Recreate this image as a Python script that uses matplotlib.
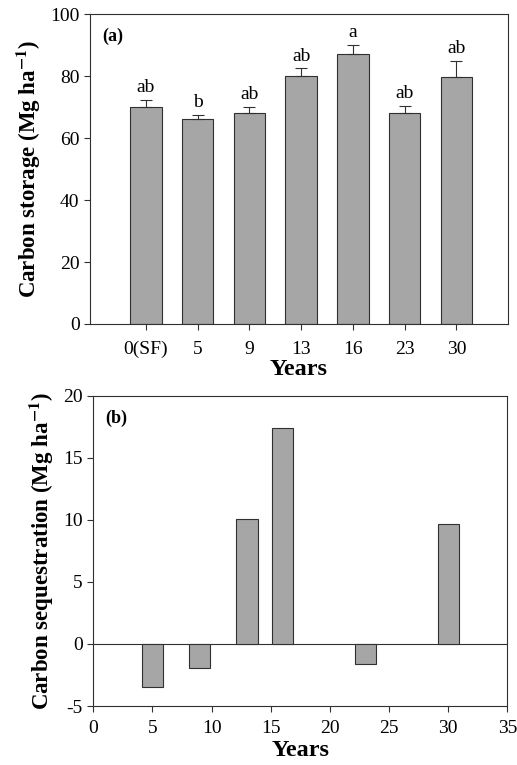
import numpy as np
import matplotlib.pyplot as plt

plt.rcParams['font.family'] = ['Liberation Serif', 'DejaVu Serif']
plt.rcParams['mathtext.fontset'] = 'stix'
plt.rcParams['axes.unicode_minus'] = False

# ----------------------
# Data
# ----------------------
years_labels = ["0(SF)", "5", "9", "13", "16", "23", "30"]
storage = [70.0, 66.3, 68.0, 80.0, 87.3, 68.2, 79.6]
storage_err = [2.3, 1.3, 2.0, 2.5, 2.8, 2.1, 5.4]
letters = ["ab", "b", "ab", "ab", "a", "ab", "ab"]

seq_years = [5, 9, 13, 16, 23, 30]
sequestration = [-3.5, -1.9, 10.1, 17.4, -1.6, 9.7]

bar_color = "#a6a6a6"
edge = "#303030"

fig = plt.figure(figsize=(5.17, 7.65), dpi=100)

# ----------------------
# (a) Carbon storage
# ----------------------
ax1 = fig.add_axes([0.174, 0.5765, 0.809, 0.405])
x = np.arange(len(years_labels))
ax1.bar(x, storage, width=0.61, color=bar_color, edgecolor=edge, linewidth=0.8, zorder=2)
ax1.errorbar(x, storage, yerr=[np.zeros(len(x)), storage_err], fmt="none",
             ecolor="#303030", elinewidth=0.8, capsize=4, capthick=0.8, zorder=3)
for xi, v, e, lab in zip(x, storage, storage_err, letters):
    ax1.text(xi, v + e + 1.2, lab, ha="center", va="bottom", fontsize=14)
ax1.set_xlim(-1.08, 7.0)
ax1.set_ylim(0, 100)
ax1.set_yticks(range(0, 101, 20))
ax1.set_xticks(x)
ax1.set_xticklabels(years_labels)
ax1.tick_params(axis="x", pad=8)
ax1.set_xlabel("Years", fontsize=17.5, fontweight="bold", labelpad=1)
ax1.set_ylabel("Carbon storage (Mg ha$^{\\mathbf{-1}}$)", fontsize=16.5, fontweight="bold", labelpad=5)
ax1.text(0.03, 0.955, "(a)", transform=ax1.transAxes, fontsize=13, fontweight="bold", va="top")

# ----------------------
# (b) Carbon sequestration
# ----------------------
ax2 = fig.add_axes([0.1805, 0.0771, 0.801, 0.4056])
ax2.bar(seq_years, sequestration, width=1.8, color=bar_color, edgecolor=edge, linewidth=0.8, zorder=2)
ax2.axhline(0, color="#303030", linewidth=0.8, zorder=1)
ax2.set_xlim(0, 35)
ax2.set_ylim(-5, 20)
ax2.set_xticks(range(0, 36, 5))
ax2.set_yticks(range(-5, 21, 5))
ax2.tick_params(axis="x", pad=6)
ax2.set_xlabel("Years", fontsize=17.5, fontweight="bold", labelpad=2)
ax2.set_ylabel("Carbon sequestration (Mg ha$^{\\mathbf{-1}}$)", fontsize=16.5, fontweight="bold", labelpad=5)
ax2.text(0.03, 0.955, "(b)", transform=ax2.transAxes, fontsize=13, fontweight="bold", va="top")

for ax in (ax1, ax2):
    for s in ax.spines.values():
        s.set_linewidth(0.8)
        s.set_color("#303030")
    ax.tick_params(direction="out", length=4, width=0.8, labelsize=14, color="#303030")

fig.savefig("out.png", dpi=100)
